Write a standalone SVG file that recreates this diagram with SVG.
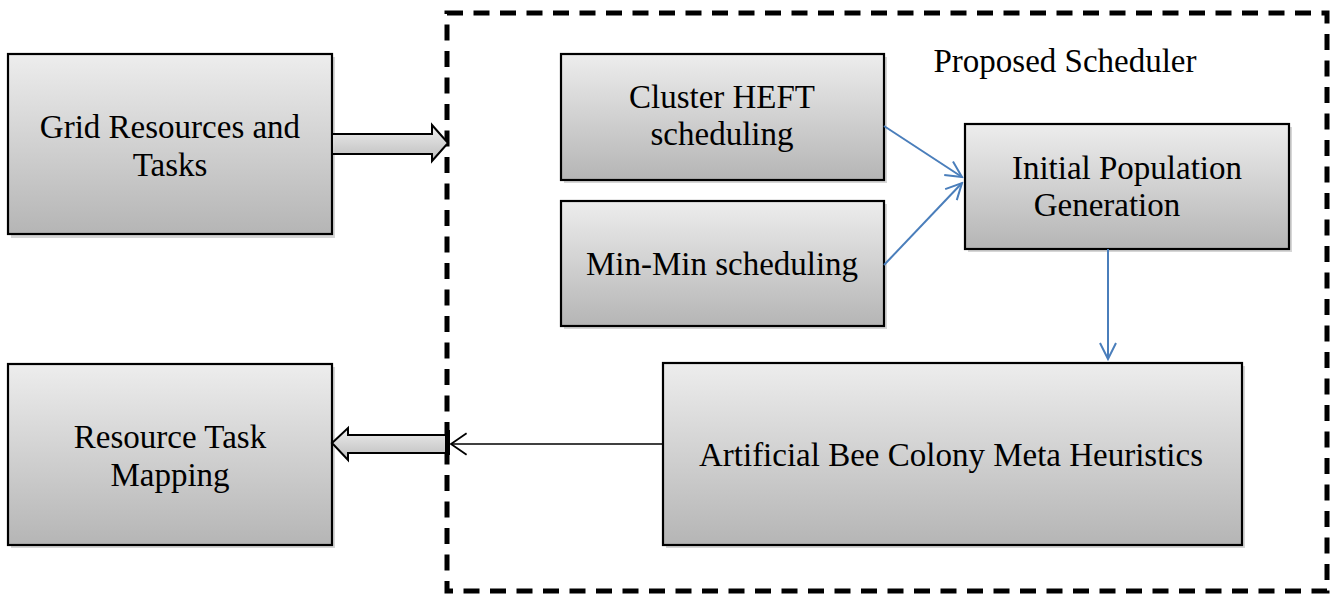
<svg xmlns="http://www.w3.org/2000/svg" width="1334" height="597" viewBox="0 0 1334 597">
<defs>
<linearGradient id="g" x1="0" y1="0" x2="0" y2="1">
<stop offset="0" stop-color="#ededed"/>
<stop offset="1" stop-color="#b5b5b5"/>
</linearGradient>
<linearGradient id="ga" x1="0" y1="0" x2="0" y2="1">
<stop offset="0" stop-color="#eeeeee"/>
<stop offset="1" stop-color="#bdbdbd"/>
</linearGradient>
<marker id="blue" viewBox="0 0 20 20" refX="18" refY="10" markerWidth="20" markerHeight="20" markerUnits="userSpaceOnUse" orient="auto">
<path d="M2,2 L18,10 L2,18" fill="none" stroke="#4a7ebb" stroke-width="2"/>
</marker>
<marker id="blk" viewBox="0 0 20 20" refX="18" refY="10" markerWidth="24" markerHeight="24" markerUnits="userSpaceOnUse" orient="auto">
<path d="M5,1 L18,10 L5,19" fill="none" stroke="#000" stroke-width="1.5"/>
</marker>
</defs>
<style>
.box{fill:url(#g);stroke:#000;stroke-width:2.2}
.sh{fill:#bbb;opacity:0.6}
.t{font-family:"Liberation Serif",serif;font-size:33px;fill:#000;text-anchor:middle}
.blue{stroke:#4a7ebb;stroke-width:2;fill:none}
</style>
<rect width="1334" height="597" fill="#fff"/>
<g id="container">
<rect x="447" y="13" width="880" height="578" fill="none" stroke="#000" stroke-width="5" stroke-dasharray="16 10.5"/>
<text class="t" x="1065" y="72">Proposed Scheduler</text>
</g>
<g id="grid">
<rect class="sh" x="11" y="57" width="324" height="181"/>
<rect class="box" x="8" y="54" width="324" height="180"/>
<text class="t" x="170" y="138">Grid Resources and</text>
<text class="t" x="170" y="176">Tasks</text>
</g>
<g id="mapping">
<rect class="sh" x="11" y="367" width="324" height="181"/>
<rect class="box" x="8" y="364" width="324" height="181"/>
<text class="t" x="170" y="448">Resource Task</text>
<text class="t" x="170" y="486">Mapping</text>
</g>
<g id="heft">
<rect class="sh" x="564" y="57" width="323" height="126"/>
<rect class="box" x="561" y="54" width="323" height="126"/>
<text class="t" x="722" y="108">Cluster HEFT</text>
<text class="t" x="722" y="145">scheduling</text>
</g>
<g id="minmin">
<rect class="sh" x="564" y="204" width="323" height="125"/>
<rect class="box" x="561" y="201" width="323" height="125"/>
<text class="t" x="722" y="275">Min-Min scheduling</text>
</g>
<g id="initpop">
<rect class="sh" x="968" y="127" width="324" height="125"/>
<rect class="box" x="965" y="124" width="324" height="125"/>
<text class="t" x="1127" y="179">Initial Population</text>
<text class="t" x="1107" y="216">Generation</text>
</g>
<g id="abc">
<rect class="sh" x="666" y="366" width="579" height="182"/>
<rect class="box" x="663" y="363" width="579" height="182"/>
<text class="t" x="951" y="466">Artificial Bee Colony Meta Heuristics</text>
</g>
<g id="connectors">
<path d="M332,134 L432,134 L432,125 L448,143 L432,161 L432,154 L332,154 Z" fill="url(#ga)" stroke="#000" stroke-width="2"/>
<path d="M448,435 L348,435 L348,428 L332,443 L348,460 L348,453 L448,453 Z" fill="url(#ga)" stroke="#000" stroke-width="2"/>
<rect x="445" y="430" width="5" height="25" fill="#000"/>
<line x1="663" y1="444" x2="451" y2="444" stroke="#000" stroke-width="1.5" marker-end="url(#blk)"/>
<line class="blue" x1="884" y1="126" x2="962" y2="177" marker-end="url(#blue)"/>
<line class="blue" x1="884" y1="265" x2="962" y2="183" marker-end="url(#blue)"/>
<line class="blue" x1="1108" y1="249" x2="1108" y2="359" marker-end="url(#blue)"/>
</g>
</svg>
